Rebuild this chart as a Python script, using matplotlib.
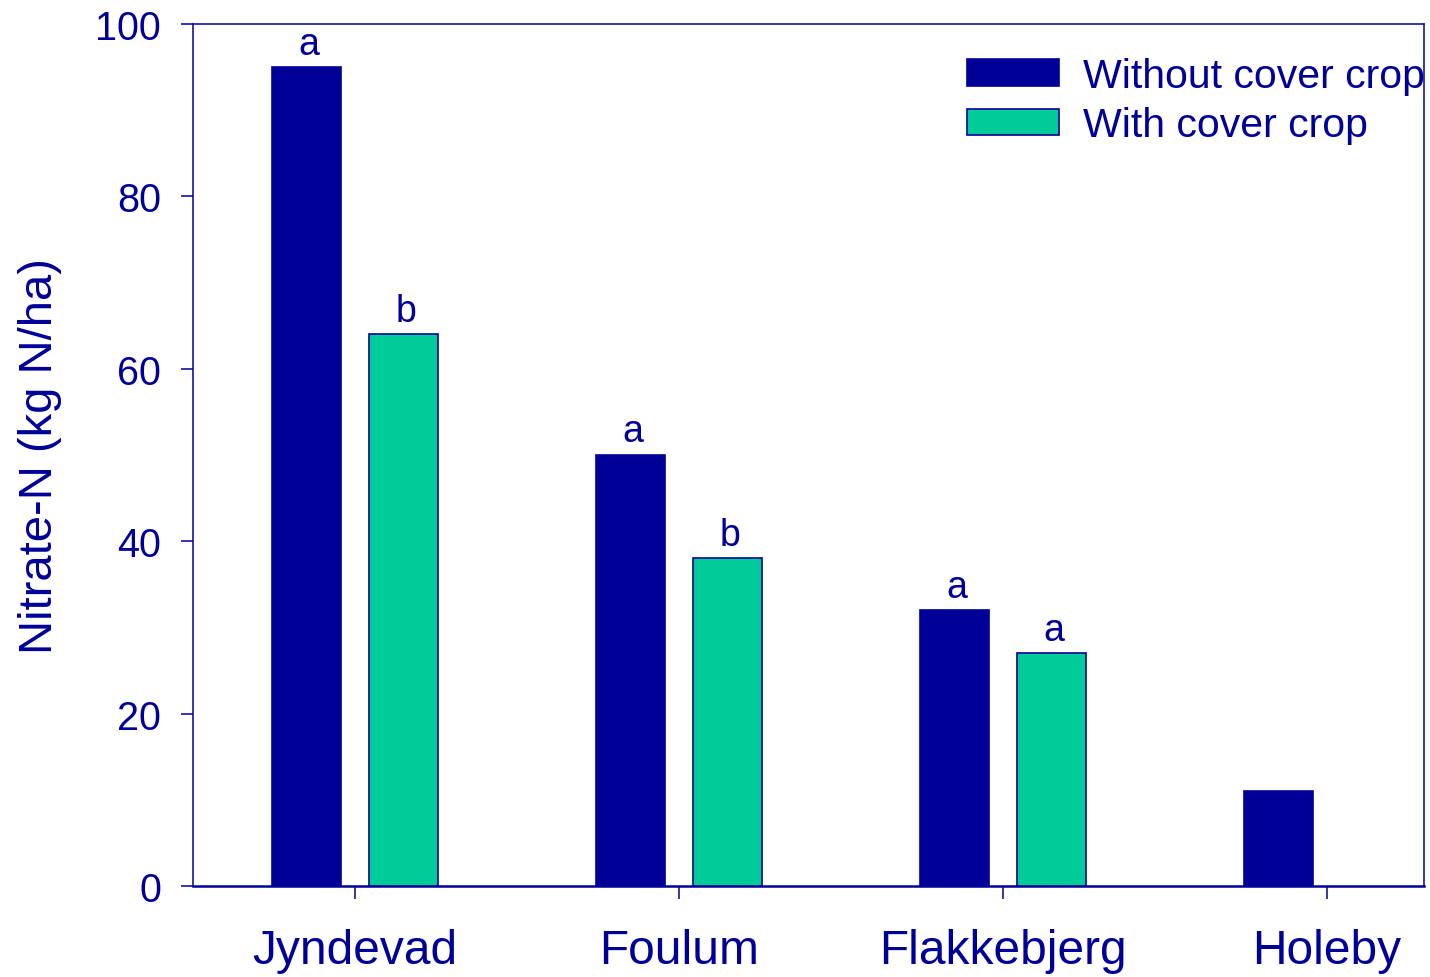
import matplotlib
matplotlib.use("Agg")
import matplotlib.pyplot as plt
import numpy as np

plt.rcParams['font.family'] = ['Liberation Sans', 'DejaVu Sans']

sites = ["Jyndevad", "Foulum", "Flakkebjerg", "Holeby"]
without_cc = [95, 50, 32, 11]
with_cc = [64, 38, 27, None]
letters_without = ["a", "a", "a", None]
letters_with = ["b", "b", "a", None]
series_labels = ["Without cover crop", "With cover crop"]
yticks = [0, 20, 40, 60, 80, 100]

navy = "#000099"
green = "#00CC99"

fig = plt.figure(figsize=(14.30, 9.78), dpi=100)
ax = fig.add_axes([193 / 1430, 1 - 887 / 978, (1424 - 193) / 1430, (887 - 25) / 978])

x = np.arange(len(sites))
width = 0.213
off = 0.15

xa = [xi - off for xi, v in zip(x, without_cc) if v is not None]
va = [v for v in without_cc if v is not None]
xb = [xi + off for xi, v in zip(x, with_cc) if v is not None]
vb = [v for v in with_cc if v is not None]

ax.bar(xa, va, width, color=navy, edgecolor=navy, linewidth=1.2, label=series_labels[0], zorder=3)
ax.bar(xb, vb, width, color=green, edgecolor=navy, linewidth=1.2, label=series_labels[1], zorder=3)

# significance letters above the bars
for xi, v, t in list(zip(xa, va, letters_without)) + list(zip(xb, vb, letters_with)):
    if t:
        ax.annotate(t, (xi + 0.008, v), xytext=(0, 4), textcoords="offset points",
                    ha="center", va="bottom", fontsize=27, color=navy)

ax.set_xlim(-0.5, 3.3)
ax.set_ylim(0, 100)
ax.set_yticks(yticks)
ax.set_xticks(x)
ax.set_xticklabels(sites)

for s in ["top", "left", "right"]:
    ax.spines[s].set_color(navy)
    ax.spines[s].set_linewidth(1.1)
ax.spines["bottom"].set_color(navy)
ax.spines["bottom"].set_linewidth(1.8)

ax.tick_params(axis="y", direction="out", length=9, width=1.1, color=navy,
               labelcolor=navy, labelsize=28.5, pad=14)
ax.tick_params(axis="x", direction="out", length=9, width=1.1, color=navy,
               labelcolor=navy, labelsize=34.5, pad=21)

ax.set_ylabel("Nitrate-N (kg N/ha)", fontsize=34, color=navy, labelpad=24)

leg = ax.legend(loc="upper left", bbox_to_anchor=(967 / 1430, 1 - 58 / 978),
                bbox_transform=fig.transFigure, frameon=False, fontsize=29.5,
                handlelength=2.25, handleheight=0.62, handletextpad=0.58,
                labelspacing=0.28, borderpad=0, borderaxespad=0)
for txt in leg.get_texts():
    txt.set_color(navy)

fig.savefig("out.png", dpi=100)
